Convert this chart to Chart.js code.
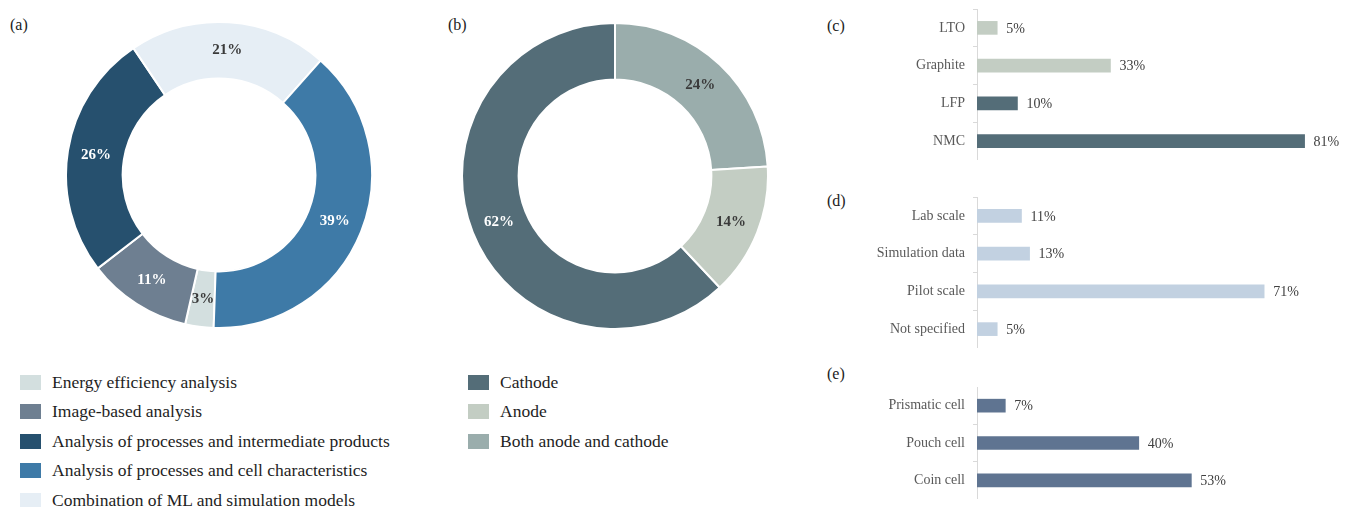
<!DOCTYPE html>
<html>
<head>
<meta charset="utf-8">
<script src="https://cdn.jsdelivr.net/npm/chart.js@4.4.0/dist/chart.umd.min.js"></script>
<style>
  body { margin: 0; background: #fff; width: 1351px; height: 507px; overflow: hidden; position: relative;
         font-family: "Liberation Serif", "DejaVu Serif", serif; }
  .box { position: absolute; }
  .tag { position: absolute; font-size: 16px; line-height: 16px; color: #222; }
  .leg { position: absolute; display: flex; align-items: center; height: 20px; font-size: 17.5px; color: #1e1e1e; white-space: nowrap; }
  .leg span { display: inline-block; width: 21px; height: 15px; margin-right: 11px; }
</style>
</head>
<body>
<div class="tag" style="left:10px;top:17px">(a)</div>
<div class="tag" style="left:448px;top:17px">(b)</div>
<div class="tag" style="left:827px;top:18px">(c)</div>
<div class="tag" style="left:827px;top:193px">(d)</div>
<div class="tag" style="left:827px;top:366px">(e)</div>

<div class="box" style="left:65px;top:21px"><canvas id="donutA" width="308" height="308"></canvas></div>
<div class="box" style="left:461px;top:22px"><canvas id="donutB" width="308" height="308"></canvas></div>
<div class="box" style="left:830px;top:9px"><canvas id="barC" width="521" height="151"></canvas></div>
<div class="box" style="left:830px;top:197px"><canvas id="barD" width="521" height="151"></canvas></div>
<div class="box" style="left:830px;top:387px"><canvas id="barE" width="521" height="112"></canvas></div>
<div id="legendA"></div>
<div id="legendB"></div>

<script>
// (a) focus of the studies
var aLabels = ['Energy efficiency analysis', 'Image-based analysis', 'Analysis of processes and intermediate products',
               'Analysis of processes and cell characteristics', 'Combination of ML and simulation models'];
var aValues = [3, 11, 26, 39, 21];
var aColors = ['#d3dfdf', '#6e7f91', '#26506e', '#3e7aa7', '#e6eef5'];
var aTextColors = ['#3a3a3a', '#ffffff', '#ffffff', '#ffffff', '#3a3a3a'];
var aDrawOrder = [0, 1, 2, 4, 3];

// (b) electrode
var bLabels = ['Cathode', 'Anode', 'Both anode and cathode'];
var bValues = [62, 14, 24];
var bColors = ['#546d78', '#c3cdc3', '#9aadac'];
var bTextColors = ['#ffffff', '#3a3a3a', '#3a3a3a'];
var bDrawOrder = [0, 2, 1];

// (c) materials
var cLabels = ['LTO', 'Graphite', 'LFP', 'NMC'];
var cValues = [5, 33, 10, 81];
var cColors = ['#c3cdc3', '#c3cdc3', '#546d78', '#546d78'];

// (d) data source
var dLabels = ['Lab scale', 'Simulation data', 'Pilot scale', 'Not specified'];
var dValues = [11, 13, 71, 5];
var dColor = '#c2d1e1';

// (e) cell format
var eLabels = ['Prismatic cell', 'Pouch cell', 'Coin cell'];
var eValues = [7, 40, 53];
var eColor = '#5f7491';

var serif = '"Liberation Serif", "DejaVu Serif", serif';

// percentage text in the middle of each ring segment
var arcText = {
  id: 'arcText',
  afterDatasetsDraw: function(chart) {
    var ctx = chart.ctx;
    var ds = chart.data.datasets[0];
    chart.getDatasetMeta(0).data.forEach(function(arc, i) {
      var p = arc.tooltipPosition();
      ctx.save();
      ctx.font = 'bold 15px ' + serif;
      ctx.fillStyle = ds.textColors[i];
      ctx.textAlign = 'center';
      ctx.textBaseline = 'middle';
      ctx.fillText(ds.data[i] + '%', p.x, p.y);
      ctx.restore();
    });
  }
};

// value text after each bar
var barText = {
  id: 'barText',
  afterDatasetsDraw: function(chart) {
    var ctx = chart.ctx;
    var ds = chart.data.datasets[0];
    chart.getDatasetMeta(0).data.forEach(function(bar, i) {
      ctx.save();
      ctx.font = '14px ' + serif;
      ctx.fillStyle = '#404040';
      ctx.textAlign = 'left';
      ctx.textBaseline = 'middle';
      ctx.fillText(ds.data[i] + '%', bar.x + 9, bar.y + 1);
      ctx.restore();
    });
  }
};

function pick(arr, order) { return order.map(function(i) { return arr[i]; }); }

function makeDonut(id, labels, values, colors, textColors, order, rotation) {
  return new Chart(id, {
    type: 'doughnut',
    data: {
      labels: pick(labels, order),
      datasets: [{
        data: pick(values, order),
        backgroundColor: pick(colors, order),
        textColors: pick(textColors, order),
        borderColor: '#ffffff',
        borderWidth: 2
      }]
    },
    options: {
      responsive: false,
      animation: false,
      cutout: '63%',
      rotation: rotation,
      plugins: { legend: { display: false }, tooltip: { enabled: false } }
    },
    plugins: [arcText]
  });
}

function makeBars(id, labels, values, colors) {
  return new Chart(id, {
    type: 'bar',
    data: {
      labels: labels,
      datasets: [{ data: values, backgroundColor: colors, barThickness: 13 }]
    },
    options: {
      indexAxis: 'y',
      responsive: false,
      animation: false,
      layout: { padding: { right: 10 } },
      scales: {
        x: { display: false, min: 0, max: 90 },
        y: {
          grid: { drawOnChartArea: false, tickLength: 4, color: '#d9d9d9', offset: true },
          border: { color: '#d9d9d9' },
          ticks: { padding: 8, color: '#595959', font: { family: serif, size: 14 } },
          afterFit: function(s) { s.width = 147; s.paddingTop = 0; s.paddingBottom = 0; }
        }
      },
      plugins: { legend: { display: false }, tooltip: { enabled: false } }
    },
    plugins: [barText]
  });
}

function makeLegend(id, labels, colors, left) {
  var host = document.getElementById(id);
  labels.forEach(function(l, i) {
    var row = document.createElement('div');
    row.className = 'leg';
    row.style.left = left + 'px';
    row.style.top = (372 + i * 29.5) + 'px';
    row.innerHTML = '<span style="background:' + colors[i] + '"></span>' + l;
    host.appendChild(row);
  });
}

makeDonut('donutA', aLabels, aValues, aColors, aTextColors, aDrawOrder, 182);
makeDonut('donutB', bLabels, bValues, bColors, bTextColors, bDrawOrder, 136.8);
makeBars('barC', cLabels, cValues, cColors);
makeBars('barD', dLabels, dValues, dColor);
makeBars('barE', eLabels, eValues, eColor);
makeLegend('legendA', aLabels, aColors, 20);
makeLegend('legendB', bLabels, bColors, 468);
</script>
</body>
</html>
